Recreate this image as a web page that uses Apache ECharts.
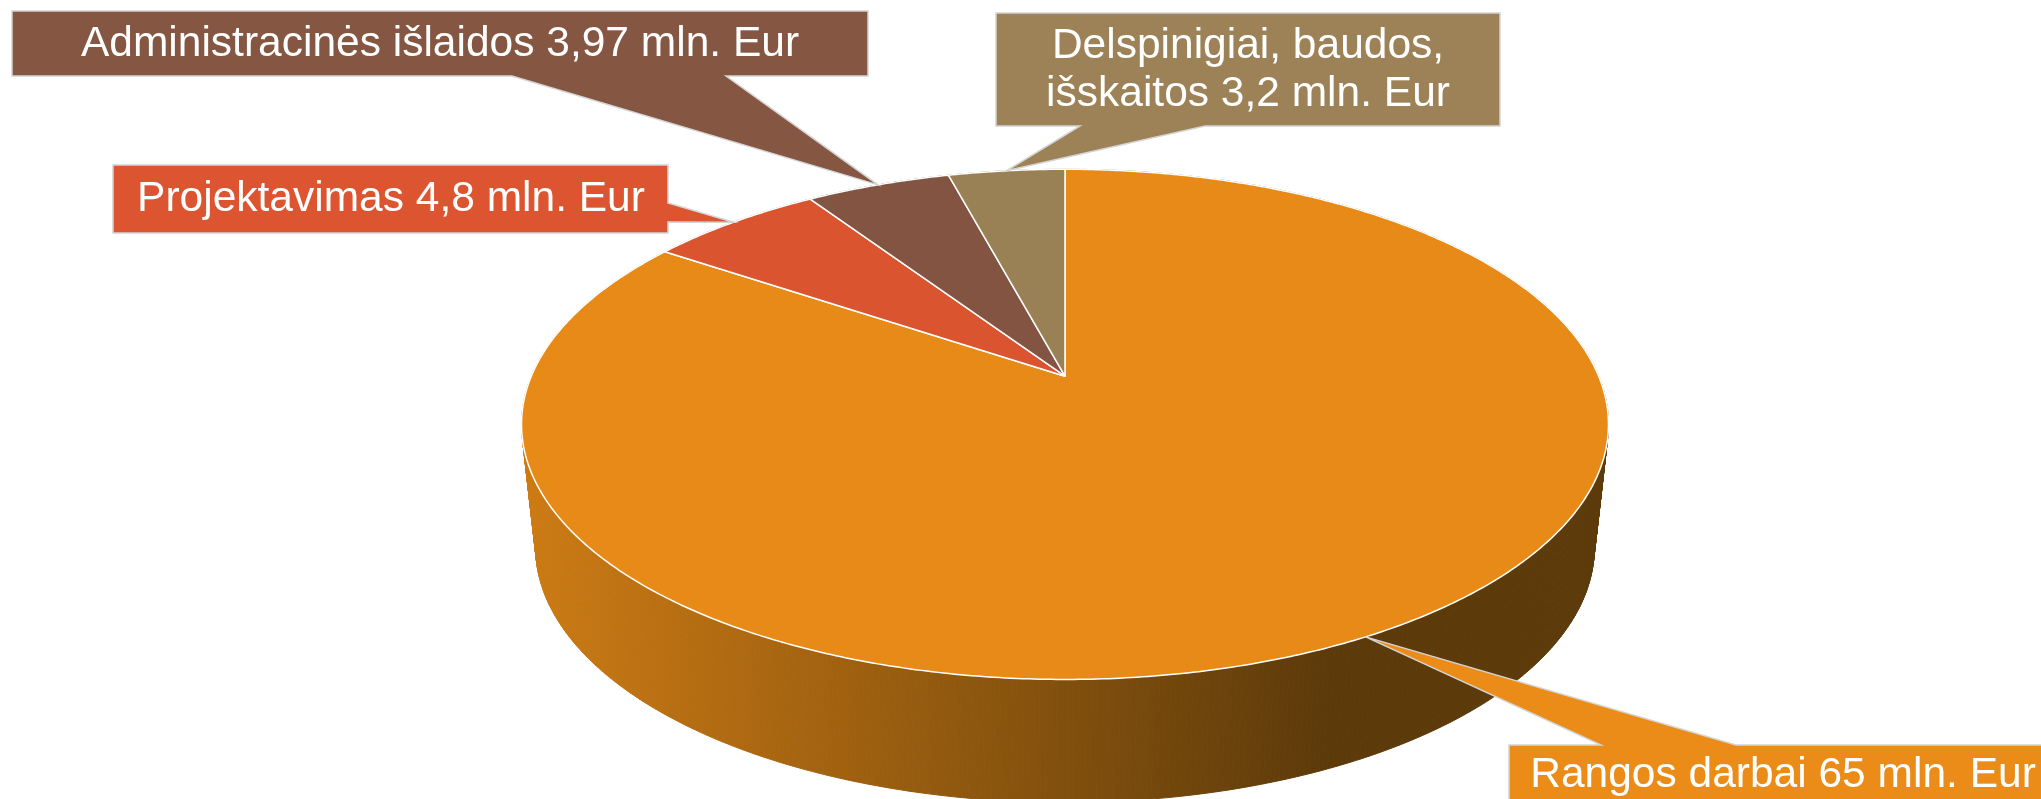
<!DOCTYPE html>
<html>
<head>
<meta charset="utf-8">
<title>Išlaidų struktūra</title>
<script src="https://cdn.jsdelivr.net/npm/echarts/dist/echarts.min.js"></script>
<style>
  html, body { margin: 0; padding: 0; background: #fff; }
  #main { width: 2041px; height: 799px; }
</style>
</head>
<body>
<div id="main"></div>
<script>
// data
var categories = ['Rangos darbai', 'Projektavimas', 'Administracinės išlaidos', 'Delspinigiai, baudos, išskaitos'];
var values = [65, 4.8, 3.97, 3.2];
var labelTexts = [
    'Rangos darbai 65 mln. Eur',
    'Projektavimas 4,8 mln. Eur',
    'Administracinės išlaidos 3,97 mln. Eur',
    'Delspinigiai, baudos,\nišskaitos 3,2 mln. Eur'
];

// look
var topColors = ['#e88a17', '#db5430', '#835441', '#9a8155'];
var boxColors = ['#eb8c18', '#dc5530', '#855641', '#9c8256'];
var sideColors = ['#9a5c10', '#8a3218', '#4f3226', '#5c4d33'];

// callout boxes in px: box [x0, y0, x1, y1], edge the pointer leaves from, pointer base, text centre
var callouts = [
    { box: [1509, 745, 2057, 808], edge: 'top', base: [1601, 1736], text: [1783, 775] },
    { box: [113, 165, 668, 233], edge: 'right', base: [203, 222], text: [391, 199] },
    { box: [12, 11, 868, 76], edge: 'bottom', base: [726, 512], text: [440, 44] },
    { box: [996, 13, 1500, 126], edge: 'bottom', base: [1205, 1080], text: [1248, 70] }
];

// fake 3D: perspective squeeze of the far side, thickness of the disc
var K = 0.1888;
var DEPTH = 0.5;
var BOTTOM_SCALE = 0.974;

var total = values.reduce(function (s, v) { return s + v; }, 0);
var sweeps = values.map(function (v) { return v / total * 360; });
var starts = [];
var acc = 0;
sweeps.forEach(function (s) { starts.push(acc); acc += s; });

// angle clockwise from 12 o'clock -> data coords of the rim
function rim(theta, bottom) {
    var t = theta * Math.PI / 180;
    var u = Math.sin(t), v = Math.cos(t);
    var d = 1 + K * v;
    var x = u / d, y = v / d;
    if (bottom) {
        x = x * BOTTOM_SCALE;
        y = y - DEPTH;
    }
    return [x, y];
}

function steps(a0, a1) {
    var n = Math.max(2, Math.ceil(Math.abs(a1 - a0) / 0.5));
    var out = [];
    for (var j = 0; j <= n; j++) out.push(a0 + (a1 - a0) * j / n);
    return out;
}

var sideGradient = new echarts.graphic.LinearGradient(521, 0, 1330, 0, [
    { offset: 0, color: '#cd7b14' },
    { offset: 1, color: '#5c3a0a' }
], true);

// side wall as thin strips, so the outline follows the tangents between top and bottom rims
function renderSide(params, api) {
    var i = params.dataIndex;
    var angles = steps(starts[i], starts[i] + sweeps[i]);
    var paint = i === 0 ? sideGradient : sideColors[i];
    var children = [];
    for (var j = 0; j < angles.length - 1; j++) {
        children.push({
            type: 'polygon',
            shape: {
                points: [
                    api.coord(rim(angles[j], false)),
                    api.coord(rim(angles[j + 1], false)),
                    api.coord(rim(angles[j + 1], true)),
                    api.coord(rim(angles[j], true))
                ]
            },
            style: { fill: paint, stroke: paint, lineWidth: 1 }
        });
    }
    return { type: 'group', children: children };
}

function renderTop(params, api) {
    var i = params.dataIndex;
    var pts = [api.coord([0, 0])];
    steps(starts[i], starts[i] + sweeps[i]).forEach(function (a) {
        pts.push(api.coord(rim(a, false)));
    });
    return {
        type: 'polygon',
        shape: { points: pts },
        style: { fill: topColors[i], stroke: '#ffffff', lineWidth: 1.5, lineJoin: 'round' }
    };
}

function renderCallout(params, api) {
    var i = params.dataIndex;
    var c = callouts[i];
    var tip = api.coord(rim(starts[i] + sweeps[i] / 2, false));
    var x0 = c.box[0], y0 = c.box[1], x1 = c.box[2], y1 = c.box[3];
    var pts;
    if (c.edge === 'top') {
        pts = [[x0, y0], [c.base[0], y0], tip, [c.base[1], y0], [x1, y0], [x1, y1], [x0, y1]];
    } else if (c.edge === 'right') {
        pts = [[x0, y0], [x1, y0], [x1, c.base[0]], tip, [x1, c.base[1]], [x1, y1], [x0, y1]];
    } else {
        pts = [[x0, y0], [x1, y0], [x1, y1], [c.base[0], y1], tip, [c.base[1], y1], [x0, y1]];
    }
    return {
        type: 'group',
        children: [
            {
                type: 'polygon',
                shape: { points: pts },
                style: { fill: boxColors[i], stroke: '#d4d4d4', lineWidth: 1.5 }
            },
            {
                type: 'text',
                x: c.text[0],
                y: c.text[1],
                style: {
                    text: labelTexts[i],
                    fill: '#ffffff',
                    font: '42.5px "Liberation Sans", Arial, sans-serif',
                    lineHeight: 48,
                    align: 'center',
                    verticalAlign: 'middle'
                }
            }
        ]
    };
}

var chartDom = document.getElementById('main');
var myChart = echarts.init(chartDom, null, { renderer: 'canvas' });

var seriesData = values.map(function (v, i) {
    return { name: categories[i], value: [i, v] };
});

var option = {
    backgroundColor: '#ffffff',
    animation: false,
    grid: { left: 531.3, top: 130.2, width: 1067.4, height: 492 },
    xAxis: { type: 'value', min: -1, max: 1, show: false },
    yAxis: { type: 'value', min: -1, max: 1, show: false },
    series: [
        { type: 'custom', name: 'side', z: 1, renderItem: renderSide, data: seriesData },
        { type: 'custom', name: 'top', z: 2, renderItem: renderTop, data: seriesData },
        { type: 'custom', name: 'labels', z: 3, renderItem: renderCallout, data: seriesData }
    ]
};
option && myChart.setOption(option);
</script>
</body>
</html>
